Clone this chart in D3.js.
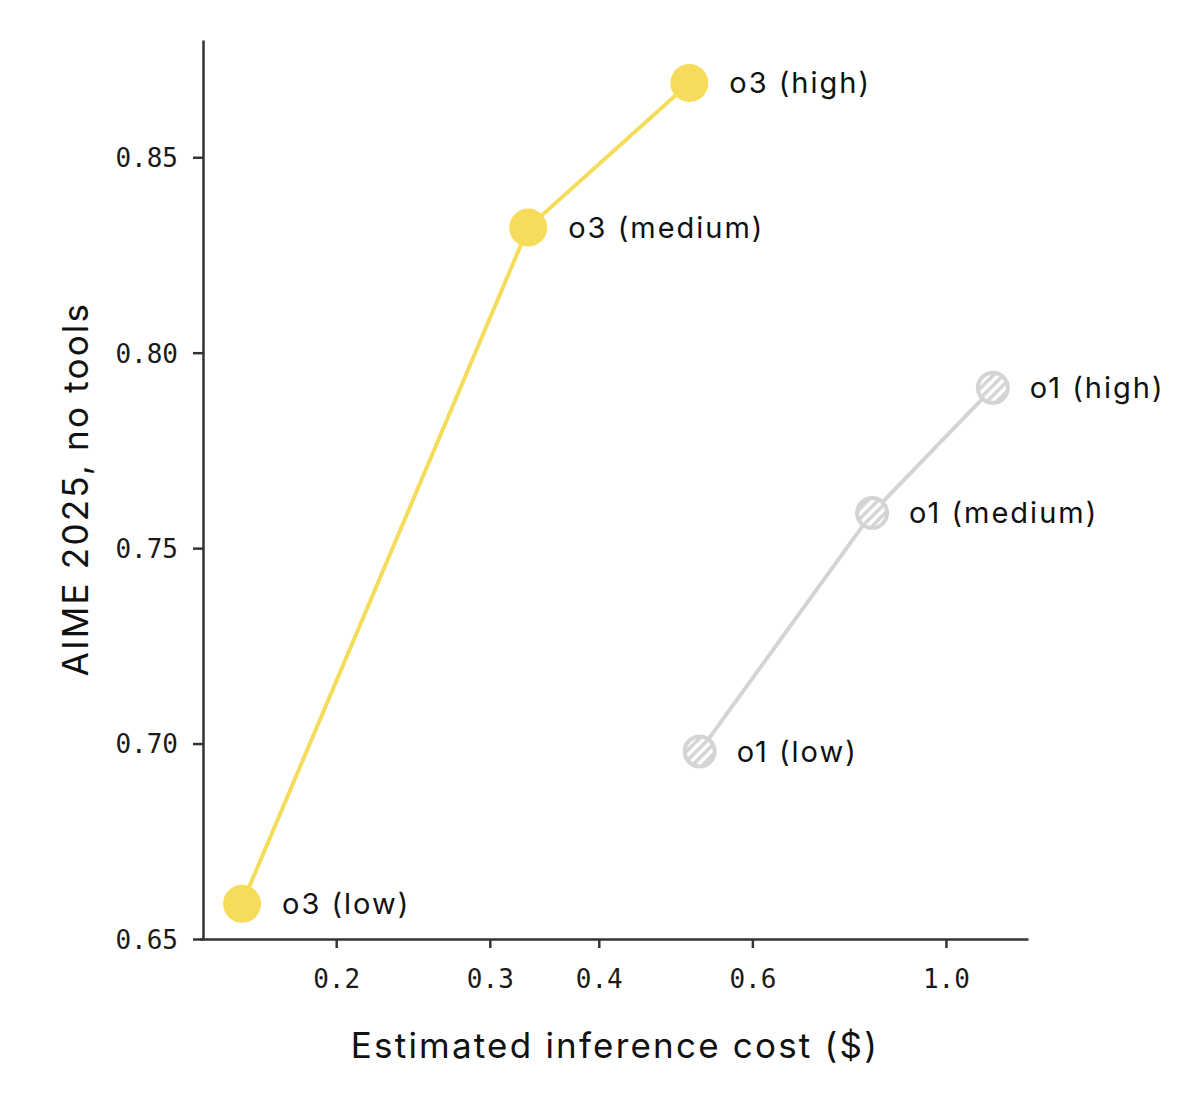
<!DOCTYPE html>
<html><head><meta charset="utf-8">
<script src="https://cdn.jsdelivr.net/npm/d3@7"></script>
<style>body{margin:0;background:#fff}</style>
</head><body>
<svg id="c" width="1200" height="1100"></svg>
<script>
const o3Labels = ["o3 (low)", "o3 (medium)", "o3 (high)"];
const o3Cost = [0.156, 0.332, 0.508];
const o3Score = [0.659, 0.832, 0.869];
const o1Labels = ["o1 (low)", "o1 (medium)", "o1 (high)"];
const o1Cost = [0.522, 0.823, 1.132];
const o1Score = [0.698, 0.759, 0.791];
const xTicks = [0.2, 0.3, 0.4, 0.6, 1.0];
const yTicks = [0.65, 0.70, 0.75, 0.80, 0.85];

const svg = d3.select("#c");
const x = d3.scaleLog().domain([0.1396, 1.242]).range([200, 1028]);
const y = d3.scaleLinear().domain([0.65, 0.880]).range([939, 40]);

const defs = svg.append("defs");
const pat = defs.append("pattern").attr("id","hatch").attr("patternUnits","userSpaceOnUse")
  .attr("width",7).attr("height",7).attr("patternTransform","rotate(-45)");
pat.append("rect").attr("width",7).attr("height",7).attr("fill","#fff");
pat.append("rect").attr("width",7).attr("height",3.5).attr("fill","#d4d4d4");

const sans = "Inter, 'Noto Sans', sans-serif";

// axes
const xAxis = d3.axisBottom(x).tickValues(xTicks).tickFormat(d3.format(".1f")).tickSize(9).tickSizeOuter(0);
const yAxis = d3.axisLeft(y).tickValues(yTicks).tickFormat(d3.format(".2f")).tickSize(10).tickSizeOuter(0);
const gx = svg.append("g").attr("transform","translate(0,939)").call(xAxis);
const gy = svg.append("g").attr("transform","translate(203,0)").call(yAxis);
[gx,gy].forEach(g=>{
  g.select(".domain").attr("stroke","#333").attr("stroke-width",2.5);
  g.selectAll(".tick line").attr("stroke","#333").attr("stroke-width",2.5);
  g.selectAll(".tick text").attr("fill","#1a1a1a").attr("font-family","'DejaVu Sans Mono', monospace").attr("font-size",26);
});
gx.selectAll(".tick text").attr("y",31).attr("dy","0.71em");
gy.selectAll(".tick text").attr("x",-25).attr("dy","0.36em");

svg.append("text").attr("x",615).attr("y",1058).attr("text-anchor","middle")
  .attr("font-family",sans).attr("font-size",35).attr("letter-spacing",2.2).attr("fill","#111")
  .text("Estimated inference cost ($)");
svg.append("text").attr("transform","translate(88,489) rotate(-90)").attr("text-anchor","middle")
  .attr("font-family",sans).attr("font-size",35).attr("letter-spacing",2.2).attr("fill","#111")
  .text("AIME 2025, no tools");

const line = d3.line().x(d=>x(d[0])).y(d=>y(d[1]));
const o3 = o3Cost.map((c,i)=>[c,o3Score[i],o3Labels[i]]);
const o1 = o1Cost.map((c,i)=>[c,o1Score[i],o1Labels[i]]);

svg.append("path").datum(o1).attr("d",line).attr("fill","none").attr("stroke","#d4d4d4").attr("stroke-width",4);
svg.append("path").datum(o3).attr("d",line).attr("fill","none").attr("stroke","#f5dc5a").attr("stroke-width",4);

svg.selectAll(".p1").data(o1).join("circle").attr("cx",d=>x(d[0])).attr("cy",d=>y(d[1])).attr("r",15)
  .attr("fill","url(#hatch)").attr("stroke","#d4d4d4").attr("stroke-width",4);
svg.selectAll(".p3").data(o3).join("circle").attr("cx",d=>x(d[0])).attr("cy",d=>y(d[1])).attr("r",19)
  .attr("fill","#f6dc5a");

const lab = svg.append("g").attr("font-family",sans).attr("font-size",29).attr("letter-spacing",2).attr("fill","#111");
lab.selectAll("text.o3").data(o3).join("text").attr("x",d=>x(d[0])+40).attr("y",d=>y(d[1])).attr("dy","0.35em").text(d=>d[2]);
lab.selectAll("text.o1").data(o1).join("text").attr("x",d=>x(d[0])+37).attr("y",d=>y(d[1])).attr("dy","0.35em").text(d=>d[2]);
</script>
</body></html>
